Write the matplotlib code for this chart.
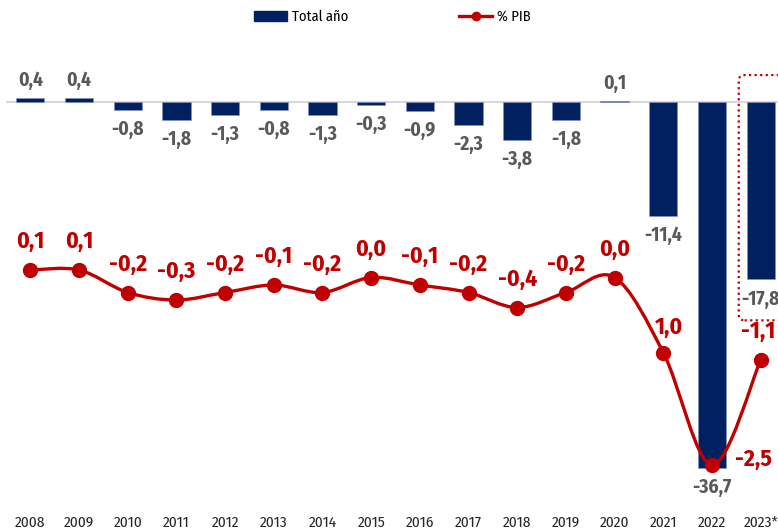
import numpy as np
import matplotlib
matplotlib.use('Agg')
import matplotlib.pyplot as plt
from matplotlib.patches import Patch, FancyBboxPatch, PathPatch
from matplotlib.lines import Line2D
from matplotlib.path import Path

plt.rcParams['font.family'] = ['Fira Sans Condensed', 'Liberation Sans', 'DejaVu Sans']

# data
years = ['2008', '2009', '2010', '2011', '2012', '2013', '2014', '2015',
         '2016', '2017', '2018', '2019', '2020', '2021', '2022', '2023*']
total_anio = [0.4, 0.4, -0.8, -1.8, -1.3, -0.8, -1.3, -0.3,
              -0.9, -2.3, -3.8, -1.8, 0.1, -11.4, -36.7, -17.8]
pct_pib = [0.1, 0.1, -0.2, -0.3, -0.2, -0.1, -0.2, 0.0,
           -0.1, -0.2, -0.4, -0.2, 0.0, -1.0, -2.5, -1.1]
pct_pib_labels = ['0,1', '0,1', '-0,2', '-0,3', '-0,2', '-0,1', '-0,2', '0,0',
                  '-0,1', '-0,2', '-0,4', '-0,2', '0,0', '1,0', '-2,5', '-1,1']

navy = '#002060'
red = '#C00000'
W, H = 778, 531

fig = plt.figure(figsize=(W / 100, H / 100), dpi=100)
# axes in pixel terms: x from 6 to 785, y from 40 to 505 (top-down)
ax = fig.add_axes([6 / W, 1 - 505 / H, 779 / W, 465 / H])
x = np.arange(len(years))

# bars
ax.bar(x, total_anio, width=0.58, color=navy, edgecolor='#8595BF', linewidth=0.4, zorder=2)
ax.axhline(0, color='#D9D9D9', linewidth=1.5, zorder=1)
ax.set_xlim(-0.5, len(years) - 0.5)
ax.set_ylim(-(505 - 102) / 9.97, (102 - 40) / 9.97)

for xi, v in zip(x, total_anio):
    txt = f'{v:.1f}'.replace('.', ',')
    if v >= 0:
        ax.annotate(txt, (xi, v), xytext=(0, 6), textcoords='offset points',
                    ha='center', va='bottom', fontsize=14, fontweight='bold', color='#595959')
    else:
        ax.annotate(txt, (xi, v), xytext=(0, -7), textcoords='offset points',
                    ha='center', va='top', fontsize=14, fontweight='bold', color='#595959')

# dotted box around the 2023 estimate
box = FancyBboxPatch((14.55, -21.9), 1.2, 24.6,
                     boxstyle='round,pad=0,rounding_size=0.12',
                     mutation_aspect=48.65 / 9.97,
                     fill=False, edgecolor=red, linestyle=(0, (1, 1.5)), linewidth=1.6,
                     zorder=3, clip_on=False)
ax.add_patch(box)

ax.set_xticks(x)
ax.set_xticklabels(years, fontsize=11, color='#262626')
ax.tick_params(axis='x', length=0, pad=8)
ax.set_yticks([])
for s in ax.spines.values():
    s.set_visible(False)

# line on secondary axis
ax2 = ax.twinx()
ax2.set_ylim(-(505 - 277.5) / 75, (277.5 - 40) / 75)
ax2.set_yticks([])
for s in ax2.spines.values():
    s.set_visible(False)

# smoothed path (Catmull-Rom as cubic Bezier) through the points
px = x.astype(float)
py = np.array(pct_pib, dtype=float)
verts = [(px[0], py[0])]
codes = [Path.MOVETO]
n = len(px)
for i in range(n - 1):
    p0 = np.array([px[max(i - 1, 0)], py[max(i - 1, 0)]])
    p1 = np.array([px[i], py[i]])
    p2 = np.array([px[i + 1], py[i + 1]])
    p3 = np.array([px[min(i + 2, n - 1)], py[min(i + 2, n - 1)]])
    c1 = p1 + (p2 - p0) / 6
    c2 = p2 - (p3 - p1) / 6
    verts += [tuple(c1), tuple(c2), tuple(p2)]
    codes += [Path.CURVE4] * 3
ax2.add_patch(PathPatch(Path(verts, codes), fill=False, edgecolor=red, linewidth=2.4, zorder=3))
ax2.plot(px, py, linestyle='none', marker='o', markersize=10, color=red, zorder=4)

for xi, v, lab in zip(px, py, pct_pib_labels):
    if lab == '1,0':
        off, va = (4, 10), 'bottom'
    elif lab == '-2,5':
        off, va = (30, 4), 'center'
    elif lab == '-1,1':
        off, va = (-2, 12), 'bottom'
    else:
        off, va = (0, 12), 'bottom'
    ax2.annotate(lab, (xi, v), xytext=off, textcoords='offset points',
                 ha='center', va=va, fontsize=17, fontweight='bold', color=red)

# legend
handles = [Patch(facecolor=navy, edgecolor=navy),
           Line2D([0], [0], color=red, linewidth=2.4, marker='o', markersize=6)]
fig.legend(handles, ['Total año', '% PIB'], loc='center', bbox_to_anchor=(392 / W, 1 - 17 / H),
           ncol=2, frameon=False, fontsize=10.5, columnspacing=7.6, handlelength=2.3,
           handletextpad=0.3, handleheight=0.6)

fig.savefig('out.png', dpi=100)
